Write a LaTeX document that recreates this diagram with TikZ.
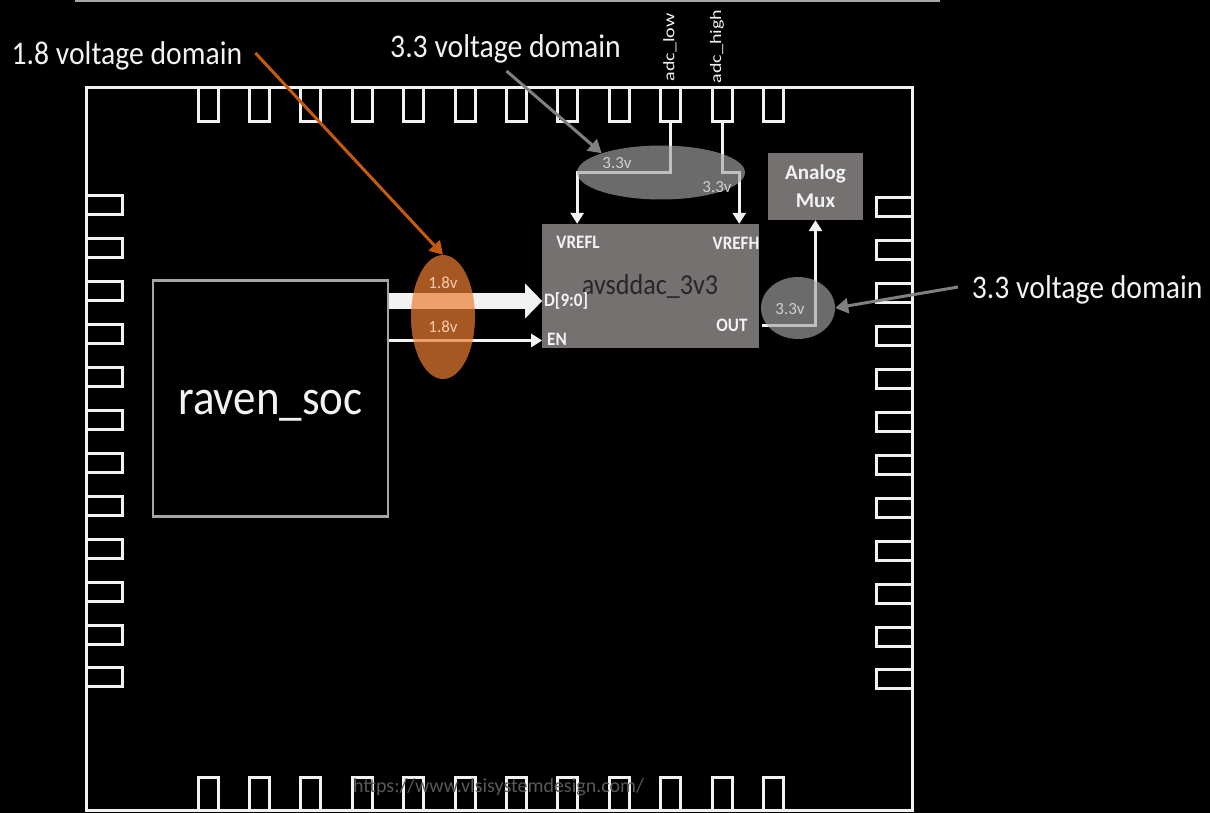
\documentclass[tikz,border=0pt]{standalone}
\usepackage{fontspec}
\setmainfont{Carlito}
\usetikzlibrary{arrows.meta,shapes.geometric}
\definecolor{dacgray}{HTML}{757171}
\definecolor{ovlgray}{HTML}{A5A5A5}
\definecolor{ovlorange}{HTML}{ED7D31}
\definecolor{arrorange}{HTML}{C55A11}
\definecolor{arrgray}{HTML}{808080}
\definecolor{lorange}{HTML}{F8CBAD}
\definecolor{offwhite}{HTML}{F2F2F2}
\definecolor{socgray}{HTML}{A6A6A6}
\definecolor{vlabel}{HTML}{D0D0D0}
\definecolor{wmark}{HTML}{595959}
\newcommand\hsq[1]{\scalebox{0.9}[1]{#1}}
\begin{document}
\begin{tikzpicture}[x=1pt,y=-1pt,
  pad/.style={draw=offwhite,line width=3pt,inner sep=0pt},
  tpadbox/.style={pad,minimum width=20pt,minimum height=34pt},
  bpadbox/.style={pad,minimum width=20pt,minimum height=33pt},
  spadbox/.style={pad,minimum width=36pt,minimum height=19pt},
  wire/.style={draw=offwhite,line width=3pt},
  wtip/.style={-{Triangle[width=13pt,length=11pt]}},
  callout/.style={line width=3pt,-{Triangle[width=15pt,length=13pt]}},
  biglbl/.style={font=\fontsize{33}{38}\selectfont,text=offwhite,inner sep=0pt,anchor=base west},
  pinlbl/.style={font=\fontsize{19}{22}\selectfont\bfseries,text=offwhite,inner sep=0pt},
  vlbl/.style={font=\fontsize{17}{20}\selectfont,inner sep=0pt},
  ovl/.style={ellipse,inner sep=0pt,draw=none},
  blk/.style={rectangle,inner sep=0pt,draw=none,fill=dacgray}]
\useasboundingbox (0,0) rectangle (1210,813);
\fill[black] (0,0) rectangle (1210,813);
% fragment of frame above
\draw[line width=3pt,draw=socgray] (75,1) -- (940,1);
% pads
\foreach \i in {0,...,11}{
  \node[tpadbox] (tp\i) at ({208+51.4*\i},105) {};
  \node[bpadbox] (bp\i) at ({208+51.4*\i},793.5) {};
  \node[spadbox] (lp\i) at (104,{205.5+42.9*\i}) {};
  \node[spadbox] (rp\i) at (894,{207.5+42.9*\i}) {};
}
% chip outline
\node[draw=offwhite,line width=3pt,inner sep=0pt,minimum width=826pt,minimum height=722pt] (chip) at (499,449) {};
% raven soc
\node[draw=socgray,line width=2.5pt,fill=black,minimum width=235pt,minimum height=236pt,inner sep=0pt] (raven) at (270.4,398.7) {};
\node[font=\fontsize{50}{56}\selectfont,text=offwhite,inner sep=0pt,anchor=base] (ravenlbl) at (270.5,414) {\hsq{raven\_soc}};
% dac block
\node[blk,minimum width=216.7pt,minimum height=123.7pt] (dac) at (650.7,285.9) {};
\node[font=\fontsize{29}{33}\selectfont,text=black!85,inner sep=0pt,anchor=base] (daclbl) at (650,294) {\hsq{avsddac\_3v3}};
% analog mux
\node[blk,minimum width=95pt,minimum height=67pt,align=center,font=\fontsize{21}{28}\selectfont\bfseries,text=offwhite] (mux) at (815.5,186.4) {Analog\\Mux};
% pin labels
\node[pinlbl] (vrefl) at (578,242) {\hsq{VREFL}};
\node[pinlbl] (vrefh) at (736,243) {\hsq{VREFH}};
\node[pinlbl,anchor=west] (dlab) at (544,301) {\hsq{D[9:0]}};
\node[pinlbl,anchor=west] (enlab) at (547,339) {\hsq{EN}};
\node[pinlbl] (outlab) at (732,325) {\hsq{OUT}};
% pad labels
\node[rotate=90,font=\fontsize{16}{18}\selectfont,text=offwhite,inner sep=0pt] (adclow) at (670,47.5) {\scalebox{1.25}[1]{adc\_low}};
\node[rotate=90,font=\fontsize{16}{18}\selectfont,text=offwhite,inner sep=0pt] (adchigh) at (717,46.5) {\scalebox{1.25}[1]{adc\_high}};
% wires
\draw[offwhite,line width=16pt,-{Triangle[width=34pt,length=17pt]}] (raven.east |- dlab) -- (dac.west |- dlab);
\draw[wire,wtip] (raven.east |- 0,340.5) -- (dac.west |- 0,340.5);
\coordinate (vreflin) at ([shift={(35,0)}]dac.north west);
\coordinate (vrefhin) at ([shift={(-20,0)}]dac.north east);
% domain ellipses
\node[ovl,minimum width=168pt,minimum height=54pt] (e33a) at (661,172.5) {};
\draw[wire,wtip] (tp9.south) -- (tp9.south |- e33a.center) -| (vreflin);
\draw[wire,wtip] (tp10.south) -- (tp10.south |- e33a.center) -| (vrefhin);
\draw[wire,wtip] ([shift={(3,0)}]dac.east |- outlab) -| (mux.south);
\fill[ovlgray,fill opacity=0.65] (e33a.center) ellipse [x radius=84pt,y radius=27pt];
\node[ovl,fill=ovlgray,fill opacity=0.65,minimum width=74pt,minimum height=62pt] (e33c) at (798,308) {};
\node[ovl,fill=ovlorange,fill opacity=0.7,minimum width=64pt,minimum height=124pt] (e18) at (443,317) {};
% voltage labels
\node[vlbl,text=lorange] (v18a) at (443,283) {1.8v};
\node[vlbl,text=lorange] (v18b) at (443,327) {1.8v};
\node[vlbl,text=vlabel] (v33a) at (617,163) {3.3v};
\node[vlbl,text=vlabel] (v33b) at (717,187) {3.3v};
\node[vlbl,text=vlabel] (v33c) at (790,309) {3.3v};
% callouts
\node[biglbl] (l18) at (11.4,65) {\hsq{1.8 voltage domain}};
\node[biglbl] (l33a) at (390,57.5) {\hsq{3.3 voltage domain}};
\node[biglbl] (l33b) at (971.7,298) {\hsq{3.3 voltage domain}};
\draw[callout,arrorange] ([shift={(13,-12)}]l18.base east) -- (e18.north);
\draw[callout,arrgray] ([shift={(1,13.5)}]l33a.base) -- (e33a.162);
\draw[callout,arrgray] ([shift={(-13.7,-11)}]l33b.base west) -- (e33c.east);
% watermark
\node[font=\fontsize{20}{24}\selectfont,text=wmark,inner sep=0pt] (wm) at (498.5,787) {https://www.vlsisystemdesign.com/};
\end{tikzpicture}
\end{document}
